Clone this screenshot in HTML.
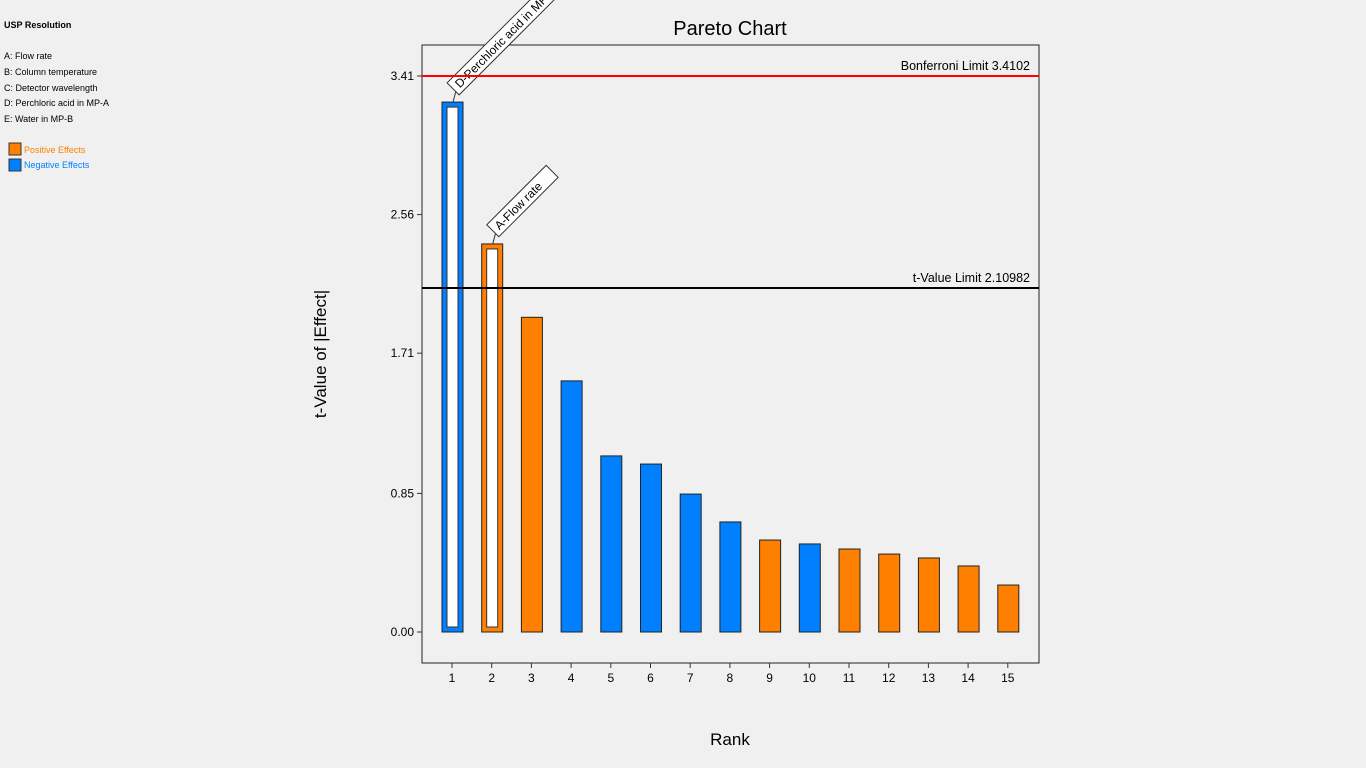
<!DOCTYPE html>
<html><head><meta charset="utf-8"><style>
html,body{margin:0;padding:0;background:#f0f0f0;width:1366px;height:768px;overflow:hidden;font-family:"Liberation Sans","DejaVu Sans",sans-serif}
</style></head><body>
<svg id="chart" width="1366" height="768" xmlns="http://www.w3.org/2000/svg" font-family="Liberation Sans, DejaVu Sans, sans-serif">
<g font-size="9" fill="#000">
<text x="4" y="28" font-weight="bold">USP Resolution</text>
<text x="4" y="59">A: Flow rate</text>
<text x="4" y="75">B: Column temperature</text>
<text x="4" y="91">C: Detector wavelength</text>
<text x="4" y="106">D: Perchloric acid in MP-A</text>
<text x="4" y="122">E: Water in MP-B</text>
<rect x="9" y="143" width="12" height="12" fill="#ff8000" stroke="#333"/>
<text x="24" y="153" fill="#ff8000">Positive Effects</text>
<rect x="9" y="159" width="12" height="12" fill="#0080ff" stroke="#333"/>
<text x="24" y="168" fill="#0080ff">Negative Effects</text>
</g>
<text x="730" y="35" font-size="20" text-anchor="middle">Pareto Chart</text>
<text x="730" y="745" font-size="17" text-anchor="middle">Rank</text>
<text transform="translate(326,354) rotate(-90)" font-size="17" text-anchor="middle">t-Value of |Effect|</text>
<rect x="422" y="45" width="617" height="618" fill="none" stroke="#222"/>
<g id="marks"></g>
</svg>
<script>
const ranks = [1,2,3,4,5,6,7,8,9,10,11,12,13,14,15];
const tValues = [3.25,2.38,1.93,1.54,1.08,1.03,0.846,0.675,0.564,0.54,0.509,0.478,0.454,0.405,0.288];
const signs = ['neg','pos','pos','neg','neg','neg','neg','neg','pos','neg','pos','pos','pos','pos','pos'];
const labels = ['D-Perchloric acid in MP-A','A-Flow rate','','','','','','','','','','','','',''];
const yTicks = [0,0.85,1.71,2.56,3.41];
const yTickLabels = ['0.00','0.85','1.71','2.56','3.41'];
const tLimit = 2.10982;
const bonfLimit = 3.4102;

const NS='http://www.w3.org/2000/svg';
const g=document.getElementById('marks');
const y=v=>632-v*163.05;
const x=r=>452+(r-1)*39.7;
function mk(t,a){const e=document.createElementNS(NS,t);for(const k in a)e.setAttribute(k,a[k]);g.appendChild(e);return e;}

yTicks.forEach((v,i)=>{
  const l=mk('line',{x1:417,x2:422,y1:y(v),y2:y(v),stroke:'#333'});
  
  
  const t=mk('text',{x:414,y:y(v)+4,'text-anchor':'end','font-size':12});
  t.textContent=yTickLabels[i];
  
  
});
ranks.forEach(r=>{
  const l=mk('line',{x1:x(r),x2:x(r),y1:663,y2:668,stroke:'#333'});
  
  
  const t=mk('text',{x:x(r),y:669+13,'text-anchor':'middle','font-size':12});
  t.textContent=r;
  
  
});
ranks.forEach((r,i)=>{
  const v=tValues[i];
  const b=mk('rect',{x:x(r)-10,y:y(v),width:21,height:y(0)-y(v),fill:signs[i]==='pos'?'#ff8000':'#0080ff',stroke:'#222','stroke-width':1});
  
  
  if(labels[i]){
    const w=mk('rect',{x:x(r)-5,y:y(v)+5,width:11,height:y(0)-y(v)-10,fill:'#fff',stroke:'#333'});
    
    
    const ax=x(r)+1, ay=y(v);
    const ln=mk('line',{x1:ax,y1:ay,x2:ax+4,y2:ay-15,stroke:'#333'});
    
    
    const grp=document.createElementNS(NS,'g');
    grp.setAttribute('transform','translate('+(ax+4)+','+(ay-15)+') rotate(-45)');
    
    
    g.appendChild(grp);
    const tw=labels[i].length*6.9+8;
    const rc=document.createElementNS(NS,'rect');
    rc.setAttribute('x',-4);rc.setAttribute('y',-10);rc.setAttribute('width',tw);rc.setAttribute('height',17);
    rc.setAttribute('fill','#fff');rc.setAttribute('stroke','#333');
    grp.appendChild(rc);
    const tx=document.createElementNS(NS,'text');
    tx.setAttribute('x',1);tx.setAttribute('y',3);tx.setAttribute('font-size',12);
    tx.textContent=labels[i];
    grp.appendChild(tx);
  }
});
const bl=mk('line',{x1:422,x2:1039,y1:y(bonfLimit),y2:y(bonfLimit),stroke:'#ff0000','stroke-width':2});


const bt=mk('text',{x:1030,y:y(bonfLimit)-6,'text-anchor':'end','font-size':12.5});
bt.textContent='Bonferroni Limit '+bonfLimit;


const tl=mk('line',{x1:422,x2:1039,y1:y(tLimit),y2:y(tLimit),stroke:'#000','stroke-width':2});


const tt=mk('text',{x:1030,y:y(tLimit)-6,'text-anchor':'end','font-size':12.5});
tt.textContent='t-Value Limit '+tLimit;


</script>
</body></html>
